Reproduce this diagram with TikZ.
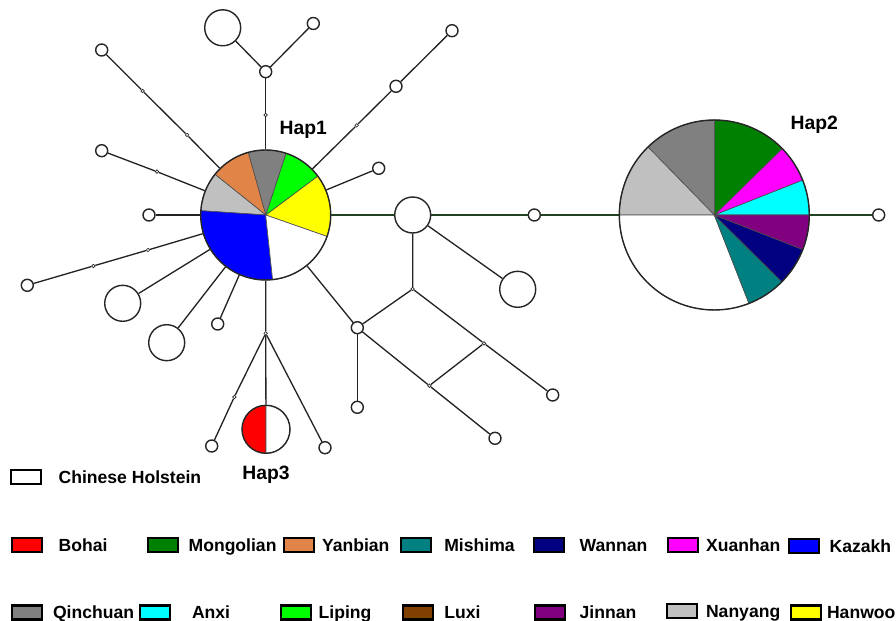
\documentclass[tikz,border=0pt]{standalone}
\usepackage{fontspec}
\setmainfont{Liberation Sans}
\usepackage{tikz}

\definecolor{holstein}{RGB}{255,255,255}
\definecolor{bohai}{RGB}{255,0,0}
\definecolor{mongolian}{RGB}{0,128,0}
\definecolor{yanbian}{RGB}{224,132,72}
\definecolor{mishima}{RGB}{0,128,128}
\definecolor{wannan}{RGB}{0,0,128}
\definecolor{xuanhan}{RGB}{255,0,255}
\definecolor{kazakh}{RGB}{0,0,255}
\definecolor{qinchuan}{RGB}{128,128,128}
\definecolor{anxi}{RGB}{0,255,255}
\definecolor{liping}{RGB}{0,255,0}
\definecolor{luxi}{RGB}{128,64,0}
\definecolor{jinnan}{RGB}{128,0,128}
\definecolor{nanyang}{RGB}{192,192,192}
\definecolor{hanwoo}{RGB}{255,255,0}
\definecolor{netline}{RGB}{35,35,35}
\definecolor{netgreen}{RGB}{35,65,35}

% one coloured sector of a haplotype pie
\newcommand{\pieslice}[5]{\filldraw[fill=#5, draw=black!70, line width=0.35pt] (#1) -- ++(#3:#2) arc[start angle=#3, end angle=#4, radius=#2] -- cycle;}

\begin{document}
\begin{tikzpicture}[
  x=0.02cm, y=-0.02cm,
  leaf/.style={circle, draw=black!85, fill=white, line width=0.8pt, minimum size=0.24cm, inner sep=0pt},
  bigleaf/.style={leaf, minimum size=0.72cm},
  mv/.style={circle, draw=black!85, fill=white, line width=0.4pt, minimum size=0.07cm, inner sep=0pt},
  hap/.style={circle, draw=black!85, line width=0.8pt, inner sep=0pt},
  link/.style={draw=netline, line width=0.75pt},
  haplab/.style={font=\fontsize{11}{13}\selectfont\bfseries},
  swatch/.style={draw, line width=1.2pt, minimum width=0.6cm, minimum height=0.28cm, inner sep=0pt, anchor=west},
  breed/.style={anchor=west, inner sep=0pt, text height=7.2pt, text depth=0pt, font=\fontsize{10}{12}\selectfont\bfseries}
]
\useasboundingbox (0,0) rectangle (896,621);

% pies
\coordinate (c1) at (265.7,215);
\coordinate (c2) at (714.3,215);
\coordinate (c3) at (266,429.3);
\foreach \a/\b/\col in {-19.3/36.8/hanwoo, 36.8/71.8/liping, 71.8/105.6/qinchuan, 105.6/141.3/yanbian,
  141.3/176.2/nanyang, 176.2/276.1/kazakh, 276.1/340.7/holstein}
  {\pieslice{c1}{1.3cm}{\a}{\b}{\col}}
\foreach \a/\b/\col in {0/21.6/anxi, 21.6/44.4/xuanhan, 44.4/90/mongolian, 90/134.3/qinchuan, 134.3/180/nanyang,
  180/291.4/holstein, 291.4/315.3/mishima, 315.3/338.7/wannan, 338.7/360/jinnan}
  {\pieslice{c2}{1.9cm}{\a}{\b}{\col}}
\pieslice{c3}{0.48cm}{90}{270}{bohai}
\pieslice{c3}{0.48cm}{-90}{90}{holstein}
\node[hap, minimum size=2.6cm] (hap1) at (c1) {};
\node[hap, minimum size=3.8cm] (hap2) at (c2) {};
\node[hap, minimum size=0.96cm] (hap3) at (c3) {};
\node[haplab] (lab1) at (303.3,130) {Hap1};
\node[haplab] (lab2) at (814.3,125) {Hap2};
\node[haplab] (lab3) at (266,475) {Hap3};

% other haplotypes
\node[bigleaf] (mA) at (222.7,27.8) {};
\node[bigleaf] (mB) at (412.7,215) {};
\node[bigleaf] (mC) at (517.7,289.3) {};
\node[bigleaf] (mD) at (122.7,303.3) {};
\node[bigleaf] (mE) at (166.7,342.7) {};
\node[leaf] (s1) at (313.3,23.5) {};
\node[leaf] (s2) at (265.7,71.7) {};
\node[leaf] (s3) at (452,30.7) {};
\node[leaf] (s4) at (396,86.3) {};
\node[leaf] (s5) at (378.7,168.3) {};
\node[leaf] (s6) at (101.7,50) {};
\node[leaf] (s7) at (101.7,150.7) {};
\node[leaf] (s8) at (149,215) {};
\node[leaf] (s9) at (27.3,285.3) {};
\node[leaf] (s10) at (217.7,324) {};
\node[leaf] (s11) at (211.7,446) {};
\node[leaf] (s12) at (325,447.7) {};
\node[leaf] (s13) at (357.3,327.7) {};
\node[leaf] (s14) at (357.3,407.3) {};
\node[leaf] (s15) at (552.7,395) {};
\node[leaf] (s16) at (495,438.3) {};
\node[leaf] (s17) at (534.3,215) {};
\node[leaf] (s18) at (878.7,215) {};

% median vectors
\node[mv] (d1) at (265.7,115) {};
\node[mv] (d2) at (142.7,91) {};
\node[mv] (d3) at (187,135) {};
\node[mv] (d4) at (157,171.7) {};
\node[mv] (d5) at (93.3,266) {};
\node[mv] (d6) at (148,250) {};
\node[mv] (d7) at (265.7,333.3) {};
\node[mv] (d8) at (234.3,397) {};
\node[mv] (d9) at (356.7,125.3) {};
\node[mv] (d10) at (412.7,289) {};
\node[mv] (d11) at (484,343.3) {};
\node[mv] (d12) at (429.3,385.7) {};

% links
\draw[link] (hap1) -- (d1) -- (s2); \draw[link] (s2) -- (mA); \draw[link] (s2) -- (s1);
\draw[link] (hap1) -- (d3) -- (d2) -- (s6);
\draw[link] (hap1) -- (d4) -- (s7);
\draw[link] (hap1) -- (s8);
\draw[link] (hap1) -- (d6) -- (d5) -- (s9);
\draw[link] (hap1) -- (mD); \draw[link] (hap1) -- (mE); \draw[link] (hap1) -- (s10);
\draw[link] (hap1) -- (d7) -- (hap3); \draw[link] (d7) -- (d8) -- (s11); \draw[link] (d7) -- (s12);
\draw[link] (hap1) -- (d9) -- (s4) -- (s3);
\draw[link] (hap1) -- (s5);
\draw[link] (hap1) -- (s13);
\draw[link, draw=netgreen] (hap1) -- (mB);
\draw[link] (mB) -- (mC);
\draw[link] (mB) -- (d10) -- (s13); \draw[link] (d10) -- (d11) -- (s15);
\draw[link] (s13) -- (d12) -- (s16); \draw[link] (d11) -- (d12);
\draw[link] (s13) -- (s14);
\draw[link, draw=netgreen] (mB) -- (s17) -- (hap2) -- (s18);

% legend
\foreach \nm/\bx/\tx/\ty/\txt in {holstein/10/58.3/477/Chinese Holstein,
  bohai/11/58.3/545/Bohai, mongolian/146.7/188.3/545/Mongolian, yanbian/282.7/321.7/545/Yanbian,
  mishima/400/444/545/Mishima, wannan/533.3/579.3/545/Wannan, xuanhan/666.7/705.7/545/Xuanhan,
  kazakh/788.3/829.3/546/Kazakh,
  qinchuan/11/52.7/612.5/Qinchuan, anxi/139.3/191.7/612.5/Anxi, liping/280/318.3/612.5/Liping,
  luxi/401.7/444/612.5/Luxi, jinnan/534.3/579.3/612.5/Jinnan, nanyang/666/705.7/611/Nanyang,
  hanwoo/790/826.7/612.5/Hanwoo}
  {\node[swatch, fill=\nm] (k-\nm) at (\bx,\ty) {};
   \node[breed] (t-\nm) at (\tx,\ty) {\txt};}
\end{tikzpicture}
\end{document}
